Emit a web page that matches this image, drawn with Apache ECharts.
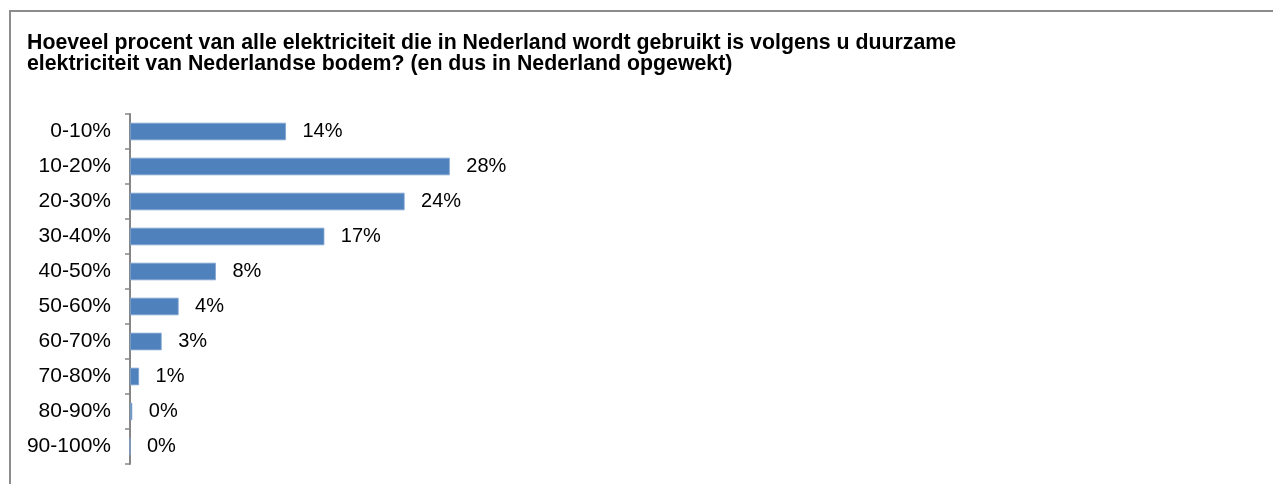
<!DOCTYPE html>
<html>
<head>
<meta charset="utf-8">
<script src="https://cdn.jsdelivr.net/npm/echarts@6/dist/echarts.min.js"></script>
<style>
  html, body { margin: 0; padding: 0; background: #fff; }
  #chart { width: 1273px; height: 484px; }
</style>
</head>
<body>
<div id="chart"></div>
<script>
// antwoordcategorieen
const categories = ['0-10%', '10-20%', '20-30%', '30-40%', '40-50%', '50-60%', '60-70%', '70-80%', '80-90%', '90-100%']
// aandeel respondenten (%)
const values = [13.8, 28.3, 24.3, 17.2, 7.6, 4.3, 2.8, 0.8, 0.2, 0]

const titleText = 'Hoeveel procent van alle elektriciteit die in Nederland wordt gebruikt is volgens u duurzame\n' +
  'elektriciteit van Nederlandse bodem? (en dus in Nederland opgewekt)'

const chart = echarts.init(document.getElementById('chart'))

chart.setOption({
  animation: false,
  backgroundColor: '#fff',
  textStyle: { fontFamily: 'Arial, "Liberation Sans", sans-serif' },
  title: {
    text: titleText,
    left: 27,
    top: 33,
    padding: 0,
    textStyle: {
      fontSize: 21.3,
      fontWeight: 'bold',
      color: '#000',
      lineHeight: 21,
      fontFamily: 'Arial, "Liberation Sans", sans-serif',
    },
  },
  graphic: [
    {
      type: 'polyline',
      shape: { points: [[10, 484], [10, 11], [1273, 11]] },
      style: { stroke: '#8c8c8c', lineWidth: 2, fill: null },
      silent: true,
    },
  ],
  grid: {
    left: 130,
    top: 114,
    right: 13,
    bottom: 20,
    containLabel: false,
  },
  xAxis: {
    type: 'value',
    min: 0,
    max: 100,
    show: false,
  },
  yAxis: {
    type: 'category',
    data: categories,
    inverse: true,
    axisLine: { show: true, lineStyle: { color: '#868686', width: 2 } },
    axisTick: { show: true, length: 5, lineStyle: { color: '#868686', width: 1.5 } },
    axisLabel: {
      margin: 19,
      fontSize: 21,
      color: '#000',
    },
  },
  series: [
    {
      type: 'bar',
      data: values,
      barCategoryGap: '50%',
      itemStyle: { color: '#4f81bd', borderColor: '#7fa3cf', borderWidth: 0.8 },
      label: {
        show: true,
        position: 'right',
        distance: 16.5,
        fontSize: 20,
        color: '#000',
        formatter: p => Math.round(p.value) + '%',
      },
    },
  ],
})
</script>
</body>
</html>
